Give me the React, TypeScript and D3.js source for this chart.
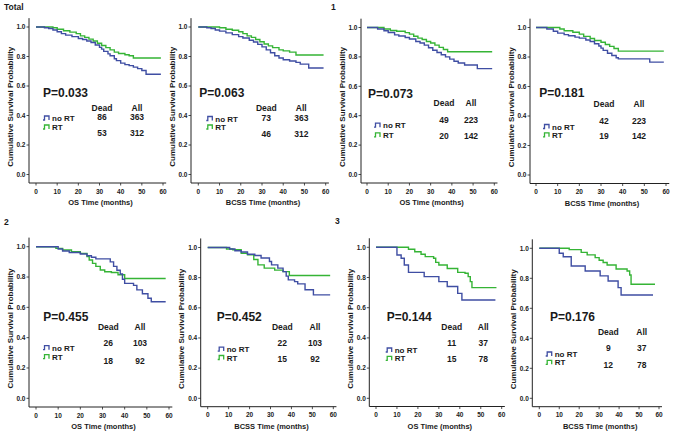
import React from "react";
import * as d3 from "d3";

type Pt = [number, number];

// ---------- data ----------
const groupLabels = ["Total", "1", "2", "3"];
const endpointTitles = ["OS Time (months)", "BCSS Time (months)"];
const seriesNames = ["no RT", "RT"];
const xTicks = [0, 10, 20, 30, 40, 50, 60];
const yTicks = [0, 0.2, 0.4, 0.6, 0.8, 1.0];

const pValues = ["P=0.033", "P=0.063", "P=0.073", "P=0.181", "P=0.455", "P=0.452", "P=0.144", "P=0.176"];
const deadNoRT = [86, 73, 49, 42, 26, 22, 11, 9];
const deadRT = [53, 46, 20, 19, 18, 15, 15, 12];
const allNoRT = [363, 363, 223, 223, 103, 103, 37, 37];
const allRT = [312, 312, 142, 142, 92, 92, 78, 78];

const totalOsNoRT: Pt[] = [[0,1],[4,0.995],[6,0.99],[8,0.98],[10,0.968],[12,0.955],[14,0.945],[17,0.935],[20,0.922],[22,0.915],[24,0.905],[26,0.895],[28,0.878],[30,0.862],[31,0.85],[32,0.835],[34,0.818],[35,0.805],[37,0.785],[38,0.772],[40,0.755],[42,0.745],[44,0.738],[46,0.728],[48,0.718],[50,0.705],[52,0.68],[59,0.68]];
const totalOsRT: Pt[] = [[0,1],[8,0.995],[10,0.985],[13,0.975],[16,0.965],[19,0.955],[21,0.94],[23,0.93],[25,0.918],[27,0.905],[29,0.89],[31,0.875],[33,0.86],[35,0.845],[37,0.83],[39,0.82],[42,0.812],[44,0.805],[46,0.79],[59,0.79]];
const totalBcssNoRT: Pt[] = [[0,1],[4,0.995],[6,0.99],[8,0.98],[10,0.972],[13,0.96],[16,0.948],[19,0.935],[21,0.925],[24,0.91],[26,0.898],[28,0.882],[30,0.865],[32,0.845],[34,0.825],[36,0.805],[38,0.79],[40,0.778],[43,0.77],[46,0.76],[48,0.748],[52,0.722],[59,0.722]];
const totalBcssRT: Pt[] = [[0,1],[10,0.995],[13,0.985],[16,0.978],[19,0.968],[21,0.955],[23,0.94],[25,0.93],[27,0.915],[29,0.9],[31,0.885],[33,0.872],[35,0.86],[38,0.845],[40,0.838],[43,0.83],[46,0.81],[59,0.81]];
const g1OsNoRT: Pt[] = [[0,1],[5,0.99],[8,0.978],[10,0.966],[13,0.95],[15,0.942],[18,0.932],[20,0.922],[23,0.905],[25,0.895],[27,0.88],[29,0.862],[31,0.845],[33,0.83],[35,0.815],[37,0.8],[39,0.785],[41,0.77],[43,0.758],[46,0.745],[52,0.72],[59,0.72]];
const g1OsRT: Pt[] = [[0,1],[8,0.99],[11,0.98],[14,0.975],[18,0.965],[20,0.955],[22,0.94],[24,0.928],[26,0.918],[28,0.905],[30,0.895],[32,0.88],[34,0.865],[36,0.85],[38,0.835],[59,0.835]];
const g1BcssNoRT: Pt[] = [[0,1],[5,0.99],[8,0.975],[10,0.962],[13,0.952],[15,0.944],[18,0.935],[20,0.928],[23,0.915],[25,0.905],[27,0.89],[29,0.875],[30,0.86],[31,0.845],[33,0.825],[35,0.81],[37,0.795],[38,0.787],[52.5,0.765],[59,0.765]];
const g1BcssRT: Pt[] = [[0,1],[11,0.99],[13,0.978],[17,0.968],[20,0.955],[22,0.94],[25,0.925],[27,0.912],[30,0.9],[32,0.885],[34,0.872],[36,0.858],[38,0.84],[59,0.84]];
const g2OsNoRT: Pt[] = [[0,1],[10,0.985],[12,0.972],[15,0.962],[20,0.952],[23,0.94],[25,0.93],[27,0.92],[33.5,0.9],[35,0.87],[36.5,0.845],[38,0.82],[39,0.785],[40,0.758],[44,0.745],[45.5,0.715],[48,0.69],[50.5,0.66],[52,0.637],[58.5,0.637]];
const g2OsRT: Pt[] = [[0,1],[9,0.989],[12,0.978],[16,0.967],[20,0.956],[23,0.935],[24,0.912],[25.5,0.89],[27,0.87],[29,0.846],[31,0.835],[34,0.83],[37,0.815],[40,0.79],[58.5,0.79]];
const g2BcssNoRT: Pt[] = [[0,1],[10.5,0.99],[13,0.978],[16,0.97],[19,0.955],[22.5,0.947],[25.5,0.93],[29.5,0.907],[30.5,0.885],[33.5,0.863],[36,0.84],[37.5,0.81],[38.5,0.785],[41.5,0.774],[43,0.759],[46.5,0.72],[50.5,0.686],[58.5,0.686]];
const g2BcssRT: Pt[] = [[0,1],[9,0.99],[12,0.985],[16,0.962],[19,0.951],[22,0.92],[24,0.885],[27,0.863],[32,0.85],[36,0.84],[39,0.814],[58.5,0.814]];
const g3OsNoRT: Pt[] = [[0,1],[10,0.949],[12,0.927],[13.5,0.883],[15.5,0.834],[23,0.806],[30,0.773],[34,0.74],[39,0.695],[41,0.651],[57,0.651]];
const g3OsRT: Pt[] = [[0,1],[15.5,0.987],[18.5,0.971],[21.5,0.954],[23.5,0.938],[27.5,0.927],[28.5,0.9],[30,0.883],[34,0.86],[39,0.834],[42.5,0.828],[44,0.806],[45,0.773],[45.8,0.733],[57.5,0.733]];
const g3BcssNoRT: Pt[] = [[0,1],[10,0.967],[12,0.944],[16,0.882],[23,0.849],[30.5,0.816],[34.5,0.782],[39.5,0.738],[41,0.689],[57,0.689]];
const g3BcssRT: Pt[] = [[0,1],[15,0.991],[21,0.973],[24,0.956],[28,0.938],[30,0.92],[32,0.905],[34,0.889],[38.5,0.862],[44,0.849],[45.3,0.822],[46,0.76],[58,0.76]];

const curvesNoRT = [totalOsNoRT, totalBcssNoRT, g1OsNoRT, g1BcssNoRT, g2OsNoRT, g2BcssNoRT, g3OsNoRT, g3BcssNoRT];
const curvesRT = [totalOsRT, totalBcssRT, g1OsRT, g1BcssRT, g2OsRT, g2BcssRT, g3OsRT, g3BcssRT];

// ---------- layout (pixels) ----------
const frames = [
  { axisX: 29, x0: 36, x60: 163, y1: 27, y0: 174.5, axisY: 183 },
  { axisX: 191, x0: 198.3, x60: 325.7, y1: 27, y0: 174.5, axisY: 183 },
  { axisX: 361, x0: 367, x60: 494.3, y1: 27.5, y0: 174.5, axisY: 183 },
  { axisX: 530, x0: 536, x60: 666, y1: 27.5, y0: 175, axisY: 183.5 },
  { axisX: 29, x0: 36, x60: 169, y1: 246.7, y0: 398.3, axisY: 407 },
  { axisX: 200.7, x0: 207.7, x60: 333.3, y1: 247.5, y0: 398.3, axisY: 406.7 },
  { axisX: 369.3, x0: 376, x60: 501.7, y1: 247.3, y0: 398.3, axisY: 406.5 },
  { axisX: 532.3, x0: 539.3, x60: 659, y1: 248.3, y0: 398.3, axisY: 406.7 },
];
const textLayout = [
  { p: [7, 70], head: 84, dead: 66, all: 101, rows: [93, 109], leg: [7, 91, 100] },
  { p: [1, 70], head: 84, dead: 68, all: 103, rows: [93.5, 109.5], leg: [8, 91.5, 100] },
  { p: [1, 70.5], head: 78, dead: 77, all: 104, rows: [95, 111], leg: [7, 97.7, 107.4] },
  { p: [3.3, 69.6], head: 79, dead: 68, all: 103, rows: [96.3, 111.3], leg: [7, 99, 107.3] },
  { p: [7.3, 74], head: 83, dead: 72.3, all: 104, rows: [99, 117], leg: [7, 101, 110] },
  { p: [9, 73], head: 82, dead: 74.6, all: 107.3, rows: [98, 114.7], leg: [10, 101.6, 110] },
  { p: [10.7, 73.4], head: 82.4, dead: 75.7, all: 107.3, rows: [98.4, 115], leg: [9.7, 102.7, 111] },
  { p: [10.7, 72.4], head: 87, dead: 69, all: 102.4, rows: [103, 119.7], leg: [6.4, 105.7, 114] },
];
const groupLabelPos = [[4, 10], [331, 10], [4, 225], [335, 224]];

const BLUE = "#3f4ea3";
const GREEN = "#35b435";
const FONT = "'Liberation Sans', Arial, sans-serif";
const TEXT = "#1a1a1a";

function Panel({ i }: { i: number }) {
  const f = frames[i];
  const t = textLayout[i];
  const x = d3.scaleLinear().domain([0, 60]).range([f.x0, f.x60]);
  const y = d3.scaleLinear().domain([0, 1]).range([f.y0, f.y1]);
  const line = d3
    .line<Pt>()
    .x((d) => x(d[0]))
    .y((d) => y(d[1]))
    .curve(d3.curveStepAfter);
  const yTop = y(1.06);
  const xEnd = x(61.5);
  const fmtY = d3.format(".1f");
  const legX = f.x0 + t.leg[0];
  const stepSym = (cx: number, cy: number) =>
    `M${cx},${cy + 2}H${cx + 1.5}V${cy - 2}H${cx + 6}V${cy + 2}`;
  const tableFont = 8.5;
  return (
    <g>
      <line x1={f.axisX} x2={f.axisX} y1={yTop} y2={f.axisY} stroke="#222" strokeWidth={1} />
      <line x1={f.axisX} x2={xEnd} y1={f.axisY} y2={f.axisY} stroke="#222" strokeWidth={1} />
      {yTicks.map((v) => (
        <g key={"y" + v}>
          <line x1={f.axisX - 2.5} x2={f.axisX} y1={y(v)} y2={y(v)} stroke="#222" strokeWidth={0.8} />
          <text x={f.axisX - 3.5} y={y(v) + 2.3} textAnchor="end" fontSize={6.5} fontWeight="bold" fill={TEXT} fontFamily={FONT}>
            {fmtY(v)}
          </text>
        </g>
      ))}
      {xTicks.map((v) => (
        <g key={"x" + v}>
          <line x1={x(v)} x2={x(v)} y1={f.axisY} y2={f.axisY + 2.5} stroke="#222" strokeWidth={0.8} />
          <text x={x(v)} y={f.axisY + 10.5} textAnchor="middle" fontSize={6.5} fontWeight="bold" fill={TEXT} fontFamily={FONT}>
            {v}
          </text>
        </g>
      ))}
      <text
        transform={`translate(${f.axisX - 16.5},${(f.y0 + f.y1) / 2 + 6}) rotate(-90)`}
        textAnchor="middle"
        fontSize={8}
        fontWeight="bold"
        fill={TEXT}
        fontFamily={FONT}
      >
        Cumulative Survival Probability
      </text>
      <text x={(f.x0 + f.x60) / 2 + 1} y={f.axisY + 22} textAnchor="middle" fontSize={7.5} fontWeight="bold" fill={TEXT} fontFamily={FONT}>
        {endpointTitles[i % 2]}
      </text>
      <path d={line(curvesRT[i]) || ""} fill="none" stroke={GREEN} strokeWidth={1.4} />
      <path d={line(curvesNoRT[i]) || ""} fill="none" stroke={BLUE} strokeWidth={1.4} />
      <text x={f.x0 + t.p[0]} y={f.y1 + t.p[1]} fontSize={12} fontWeight="bold" fill={TEXT} fontFamily={FONT}>
        {pValues[i]}
      </text>
      <text x={f.x0 + t.dead} y={f.y1 + t.head} textAnchor="middle" fontSize={tableFont} fontWeight="bold" fill={TEXT} fontFamily={FONT}>Dead</text>
      <text x={f.x0 + t.all} y={f.y1 + t.head} textAnchor="middle" fontSize={tableFont} fontWeight="bold" fill={TEXT} fontFamily={FONT}>All</text>
      <text x={f.x0 + t.dead} y={f.y1 + t.rows[0]} textAnchor="middle" fontSize={tableFont} fontWeight="bold" fill={TEXT} fontFamily={FONT}>{deadNoRT[i]}</text>
      <text x={f.x0 + t.all} y={f.y1 + t.rows[0]} textAnchor="middle" fontSize={tableFont} fontWeight="bold" fill={TEXT} fontFamily={FONT}>{allNoRT[i]}</text>
      <text x={f.x0 + t.dead} y={f.y1 + t.rows[1]} textAnchor="middle" fontSize={tableFont} fontWeight="bold" fill={TEXT} fontFamily={FONT}>{deadRT[i]}</text>
      <text x={f.x0 + t.all} y={f.y1 + t.rows[1]} textAnchor="middle" fontSize={tableFont} fontWeight="bold" fill={TEXT} fontFamily={FONT}>{allRT[i]}</text>
      {[BLUE, GREEN].map((c, k) => (
        <g key={c}>
          <path d={stepSym(legX, f.y1 + t.leg[1 + k])} fill="none" stroke={c} strokeWidth={1.3} />
          <text x={legX + 9} y={f.y1 + t.leg[1 + k] + 3} fontSize={8} fontWeight="bold" fill={TEXT} fontFamily={FONT}>
            {seriesNames[k]}
          </text>
        </g>
      ))}
    </g>
  );
}

export default function App() {
  return (
    <svg
      width={681}
      height={434}
      viewBox="0 0 681 434"
      style={{ position: "absolute", left: 0, top: 0, background: "#fff" }}
    >
      <rect width={681} height={434} fill="#fff" />
      {groupLabels.map((g, k) => (
        <text key={g} x={groupLabelPos[k][0]} y={groupLabelPos[k][1]} fontSize={8.5} fontWeight="bold" fill={TEXT} fontFamily={FONT}>
          {g}
        </text>
      ))}
      {frames.map((_, i) => (
        <Panel key={i} i={i} />
      ))}
    </svg>
  );
}
